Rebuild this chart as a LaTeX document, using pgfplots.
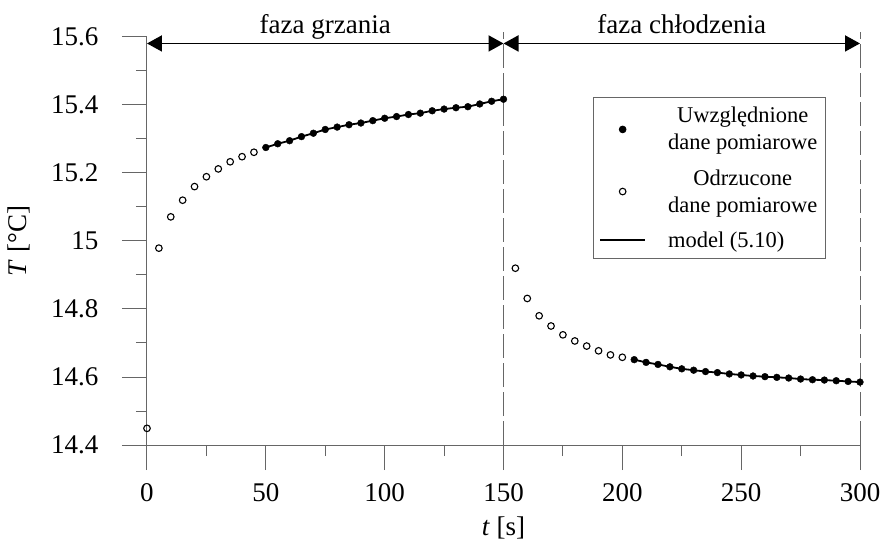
\documentclass[border=0pt]{standalone}
\usepackage{fontspec}
\setmainfont{Liberation Serif}
\usepackage{pgfplots}
\pgfplotsset{compat=1.18}
\usetikzlibrary{arrows.meta}
\definecolor{axgray}{gray}{0.4}
\begin{document}
\begin{tikzpicture}
\path[use as bounding box] (-147pt,-98pt) rectangle (736pt,445pt);
\begin{axis}[
  scale only axis, width=713pt, height=408pt,
  xmin=0, xmax=300, ymin=14.4, ymax=15.6,
  clip=false,
  axis x line*=bottom, axis y line*=left,
  axis line style={axgray, line width=1pt, -},
  xtick={0,50,100,150,200,250,300},
  minor xtick={25,75,125,175,225,275},
  ytick={14.4,14.6,14.8,15,15.2,15.4,15.6},
  minor ytick={14.5,14.7,14.9,15.1,15.3,15.5},
  tick align=outside,
  major tick length=25pt, minor tick length=11pt,
  every tick/.style={axgray, line width=1pt},
  /pgf/number format/assume math mode=true,
  tick label style={font=\fontsize{27}{32}\selectfont},
  yticklabel style={xshift=-20pt},
  xticklabel style={yshift=-10pt},
  xlabel={\textit{t} [s]}, ylabel={\textit{T} [°C]},
  every axis x label/.style={at={(axis description cs:0.5,-0.203)}, anchor=center, font=\fontsize{27}{32}\selectfont},
  every axis y label/.style={at={(axis description cs:-0.18,0.5)}, rotate=90, anchor=center, font=\fontsize{27}{32}\selectfont},
  legend image code/.code={\draw[mark repeat=2,mark phase=2,#1] plot coordinates {(0pt,0pt) (22.5pt,0pt) (45pt,0pt)};},
  legend cell align=left,
  legend style={at={(axis description cs:0.952,0.853)}, anchor=north east,
    font=\fontsize{22.5}{27}\selectfont, cells={align=center},
    draw=axgray, line width=0.8pt, inner xsep=6pt, inner ysep=8pt, row sep=14pt,
    /tikz/every odd column/.append style={column sep=20pt}},
]
% model line
\addplot[black, line width=1.8pt, unbounded coords=jump, forget plot] coordinates {
(50,15.275) (55,15.286) (60,15.295) (65,15.307) (70,15.317) (75,15.328) (80,15.335)
(85,15.342) (90,15.347) (95,15.354) (100,15.361) (105,15.366) (110,15.372) (115,15.376)
(120,15.383) (125,15.388) (130,15.392) (135,15.395) (140,15.403) (145,15.411) (150,15.417)
(175,nan)
(205,14.651) (210,14.643) (215,14.637) (220,14.630) (225,14.624) (230,14.620) (235,14.616)
(240,14.613) (245,14.609) (250,14.606) (255,14.603) (260,14.601) (265,14.599) (270,14.597)
(275,14.594) (280,14.592) (285,14.591) (290,14.589) (295,14.587) (300,14.585)
};
% accepted
\addplot[only marks, mark=*, mark size=3.4pt, black] coordinates {
(50,15.275) (55,15.286) (60,15.295) (65,15.307) (70,15.317) (75,15.328) (80,15.335)
(85,15.342) (90,15.347) (95,15.354) (100,15.361) (105,15.366) (110,15.372) (115,15.376)
(120,15.383) (125,15.388) (130,15.392) (135,15.395) (140,15.403) (145,15.411) (150,15.417)
(205,14.651) (210,14.643) (215,14.637) (220,14.630) (225,14.624) (230,14.620) (235,14.616)
(240,14.613) (245,14.609) (250,14.606) (255,14.603) (260,14.601) (265,14.599) (270,14.597)
(275,14.594) (280,14.592) (285,14.591) (290,14.589) (295,14.587) (300,14.585)
};
\addlegendentry{Uwzględnione\\dane pomiarowe}
% rejected
\addplot[only marks, mark=o, mark size=3.3pt, black, mark options={line width=1.1pt}] coordinates {
(0,14.449) (5,14.979) (10,15.071) (15,15.120) (20,15.160) (25,15.189) (30,15.212)
(35,15.233) (40,15.248) (45,15.261)
(155,14.920) (160,14.831) (165,14.780) (170,14.750) (175,14.724) (180,14.706)
(185,14.691) (190,14.677) (195,14.665) (200,14.658)
};
\addlegendentry{Odrzucone\\dane pomiarowe}
\addlegendimage{black, line width=1.8pt}
\addlegendentry{model (5.10)}
% phase markers
\draw[axgray, line width=1pt, dash pattern=on 24pt off 5pt] (axis cs:150,14.4) -- (axis cs:150,15.615);
\draw[axgray, line width=1pt, dash pattern=on 24pt off 5pt] (axis cs:300,14.4) -- (axis cs:300,15.615);
\draw[black, line width=1.8pt, {Triangle[length=15pt,width=16pt]}-{Triangle[length=15pt,width=16pt]}] (axis cs:0,15.581) -- (axis cs:150,15.581);
\draw[black, line width=1.8pt, {Triangle[length=15pt,width=16pt]}-{Triangle[length=15pt,width=16pt]}] (axis cs:150,15.581) -- (axis cs:300,15.581);
\node[anchor=base, font=\fontsize{27}{32}\selectfont] at (axis cs:75,15.609) {faza grzania};
\node[anchor=base, font=\fontsize{27}{32}\selectfont] at (axis cs:225,15.609) {faza chłodzenia};
\end{axis}
\end{tikzpicture}
\end{document}
